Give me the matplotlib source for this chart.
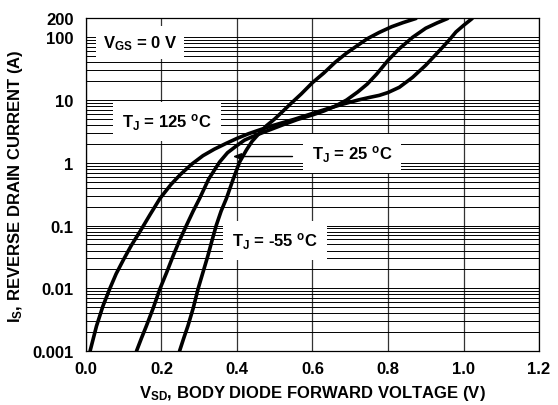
import numpy as np
import matplotlib.pyplot as plt

plt.rcParams['font.family'] = ['Liberation Sans', 'DejaVu Sans']
plt.rcParams['font.weight'] = 'bold'
plt.rcParams['mathtext.fontset'] = 'custom'
plt.rcParams['mathtext.rm'] = 'Liberation Sans:bold'
plt.rcParams['mathtext.it'] = 'Liberation Sans:bold'
plt.rcParams['mathtext.bf'] = 'Liberation Sans:bold'

# forward voltage (V) / reverse drain current (A) for each junction temp
v_125 = [0.011, 0.028, 0.045, 0.063, 0.08, 0.10, 0.12, 0.143, 0.17, 0.196,
         0.225, 0.25, 0.28, 0.31, 0.34, 0.372, 0.40, 0.43, 0.46, 0.49,
         0.52, 0.55, 0.58, 0.61, 0.64, 0.68, 0.72, 0.75, 0.777, 0.80,
         0.83, 0.865, 0.90, 0.925, 0.945, 0.965, 0.98, 1.0, 1.023]
i_125 = [0.001, 0.0025, 0.0052, 0.0098, 0.017, 0.029, 0.048, 0.08, 0.15, 0.27,
         0.45, 0.65, 0.95, 1.3, 1.65, 2.05, 2.45, 2.9, 3.35, 3.85,
         4.35, 4.9, 5.6, 6.4, 7.3, 8.6, 10, 11, 11.9, 13.2,
         16, 23, 36, 52, 70, 95, 122, 155, 200]

v_25 = [0.134, 0.147, 0.160, 0.178, 0.196, 0.214, 0.231, 0.248, 0.266, 0.284,
        0.301, 0.325, 0.354, 0.375, 0.398, 0.42, 0.44, 0.478, 0.52, 0.56,
        0.60, 0.63, 0.66, 0.69, 0.72, 0.745, 0.77, 0.80, 0.83, 0.865,
        0.90, 0.93, 0.958]
i_25 = [0.001, 0.0016, 0.0025, 0.0048, 0.0098, 0.018, 0.033, 0.058, 0.1, 0.17,
        0.27, 0.55, 1.03, 1.45, 1.85, 2.3, 2.6, 3.2, 4.0, 4.9,
        5.8, 6.7, 8.0, 10, 13.5, 18, 26, 43, 66, 100,
        140, 170, 200]

v_m55 = [0.248, 0.259, 0.270, 0.284, 0.297, 0.31, 0.323, 0.334, 0.345, 0.358,
         0.372, 0.39, 0.407, 0.425, 0.44, 0.46, 0.478, 0.50, 0.52, 0.54,
         0.57, 0.60, 0.63, 0.66, 0.69, 0.716, 0.745, 0.777, 0.81, 0.84,
         0.874]
i_m55 = [0.001, 0.0016, 0.0025, 0.0048, 0.0098, 0.018, 0.033, 0.058, 0.1, 0.17,
         0.27, 0.55, 1.03, 1.6, 2.2, 3.0, 3.9, 5.0, 6.5, 8.5,
         12.5, 19, 27, 40, 56, 72, 95, 120, 148, 172,
         200]

x_ticks = [0.0, 0.2, 0.4, 0.6, 0.8, 1.0, 1.2]
x_labels = ['0.0', '0.2', '0.4', '0.6', '0.8', '1.0', '1.2']
y_ticks = [0.001, 0.01, 0.1, 1, 10, 100, 200]
y_labels = ['0.001', '0.01', '0.1', '1', '10', '100', '200']

fig = plt.figure(figsize=(5.58, 4.06), dpi=100)
ax = fig.add_axes([0.154, 0.133, 0.812, 0.819])

ax.set_yscale('log')
ax.set_xlim(0, 1.2)
ax.set_ylim(0.001, 200)

ax.set_xticks(x_ticks)
ax.set_xticklabels(x_labels, fontsize=12, fontweight='bold')
ax.set_yticks(y_ticks)
ax.set_yticklabels(y_labels, fontsize=12, fontweight='bold')
ax.tick_params(which='both', length=0)
ax.tick_params(axis='y', pad=9)
ax.tick_params(axis='x', pad=7)

ax.grid(True, which='both', axis='y', color='black', lw=0.7)
ax.grid(True, which='major', axis='x', color='#333333', lw=0.9)
for s in ax.spines.values():
    s.set_linewidth(0.9)

for v, i in [(v_125, i_125), (v_25, i_25), (v_m55, i_m55)]:
    ax.plot(v, i, color='black', lw=2.6, zorder=3,
            solid_joinstyle='round', solid_capstyle='round')

box = dict(facecolor='white', edgecolor='none', pad=5)
box2 = dict(facecolor='white', edgecolor='none', pad=6.5)
ax.text(0.143, 82, r'V$_{GS}$ = 0 V', fontsize=12, ha='center', va='center',
        bbox=box, zorder=4)
ax.text(0.214, 4.6, r'T$_{J}$ = 125 $^{o}$C', fontsize=12, ha='center', va='center',
        bbox=box2, zorder=4)
ax.text(0.705, 1.4, r'T$_{J}$ = 25 $^{o}$C', fontsize=12, ha='center', va='center',
        bbox=box2, zorder=4)
ax.text(0.50, 0.058, r'T$_{J}$ = -55 $^{o}$C', fontsize=12, ha='center', va='center',
        bbox=box2, zorder=4)
ax.annotate('', xy=(0.389, 1.26), xytext=(0.547, 1.26),
            arrowprops=dict(arrowstyle='-|>,head_length=0.5,head_width=0.2',
                            color='black', lw=1, shrinkA=0, shrinkB=0),
            zorder=4)

ax.set_xlabel(r'V$_{SD}$, BODY DIODE FORWARD VOLTAGE (V)', fontsize=12,
              fontweight='bold', labelpad=5)
ax.set_ylabel(r'I$_{S}$, REVERSE DRAIN CURRENT (A)', fontsize=12,
              fontweight='bold', labelpad=5)

plt.savefig('out.png', dpi=100)
